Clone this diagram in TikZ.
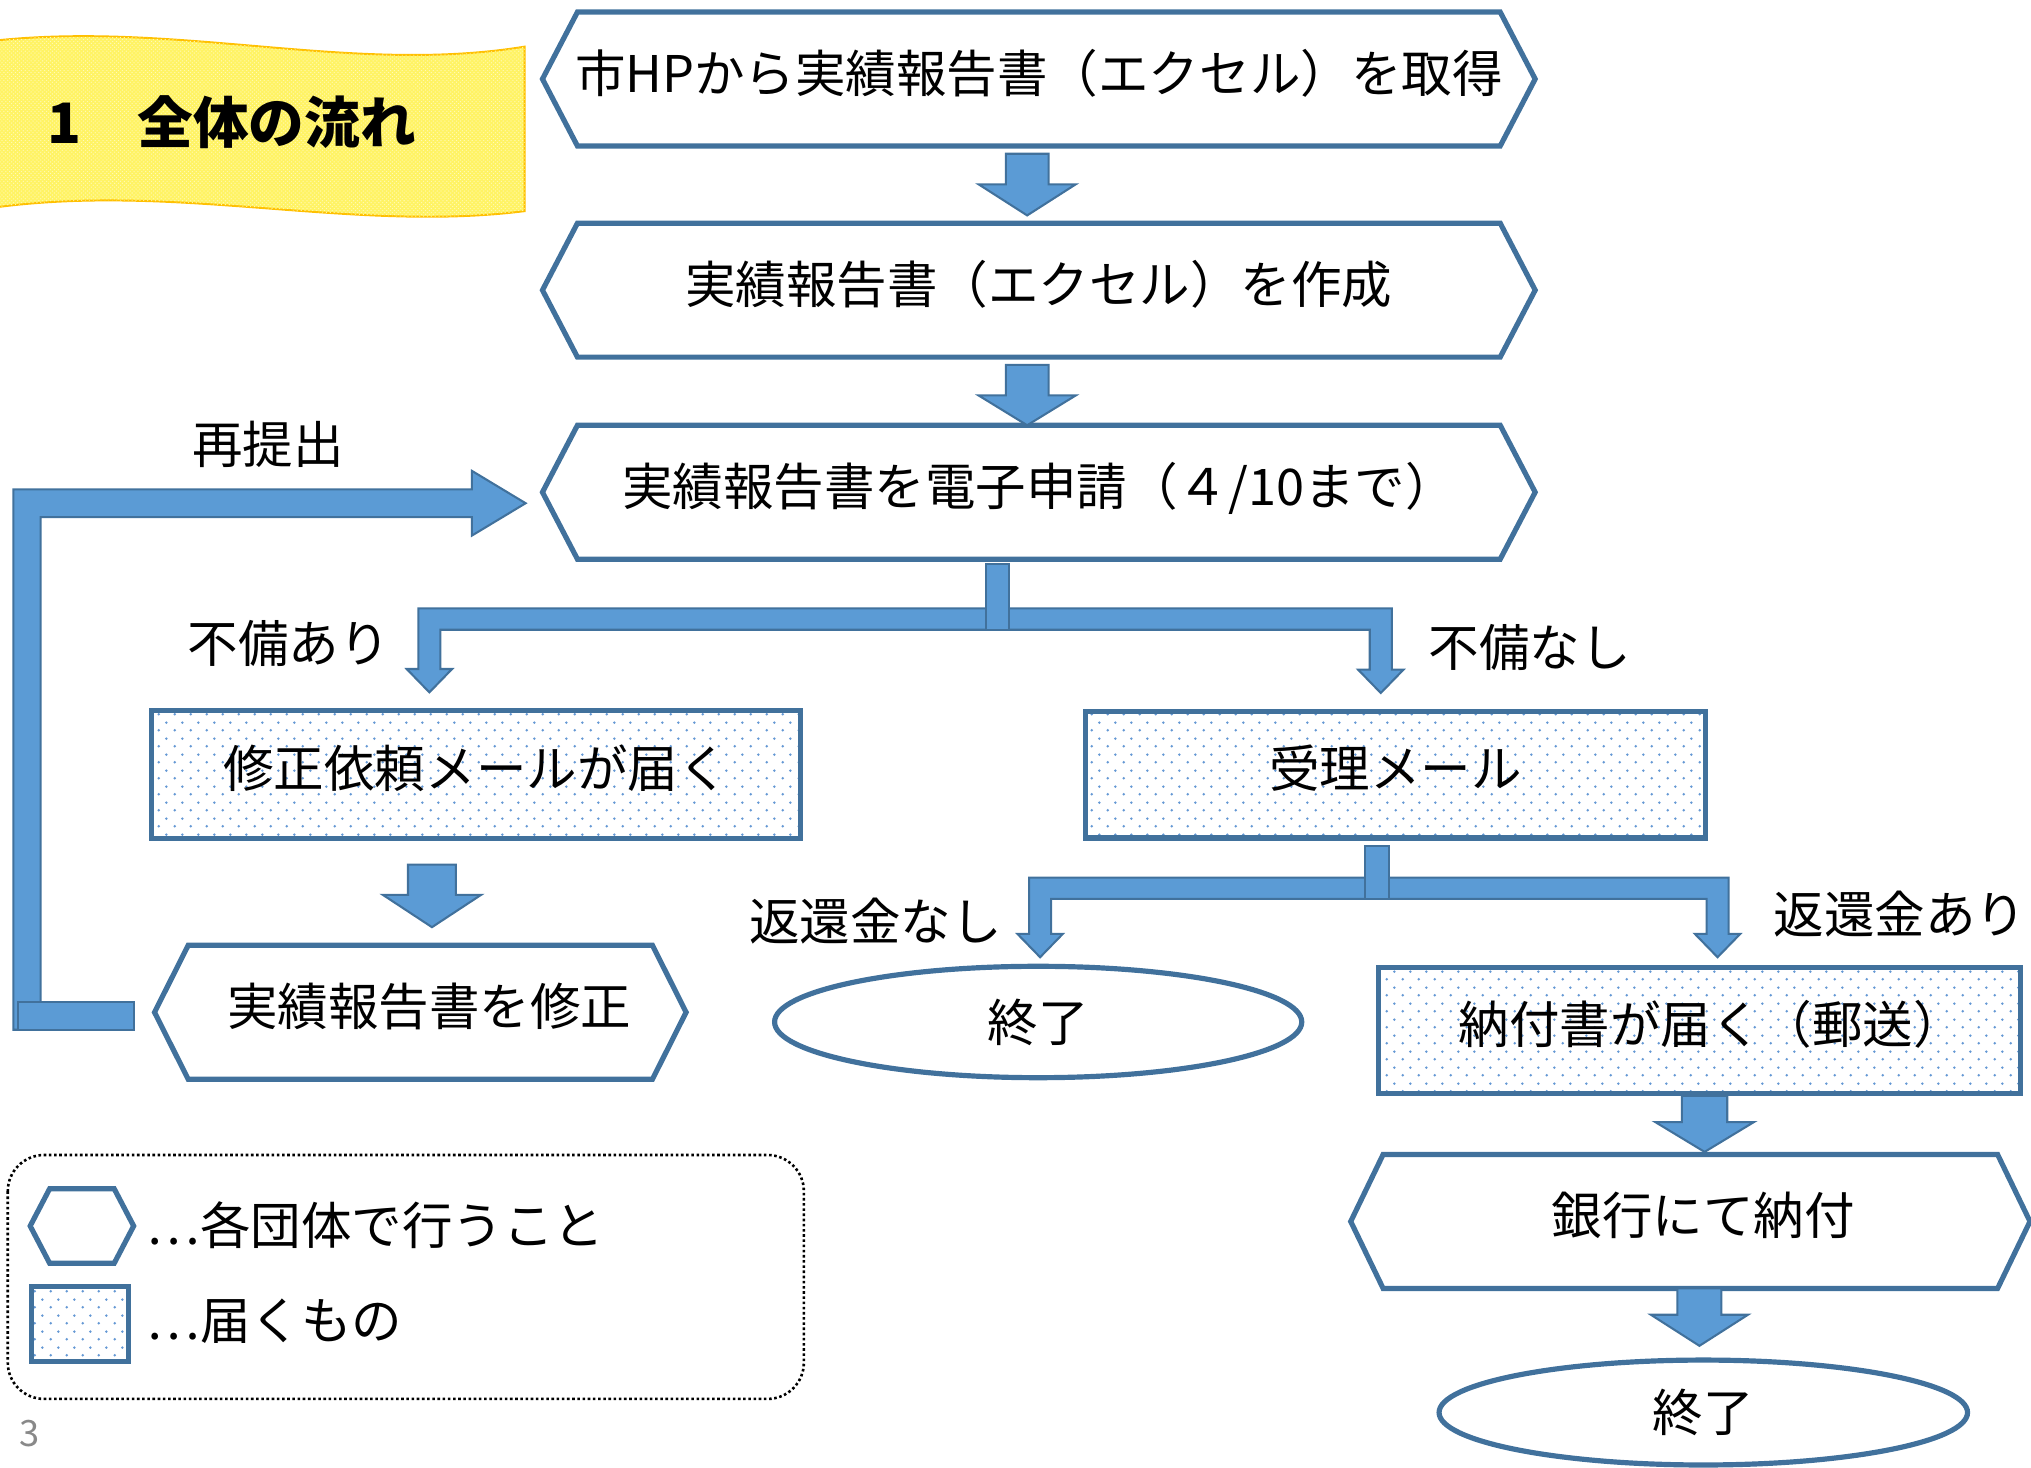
\documentclass[tikz,border=0pt]{standalone}
\usepackage{fontspec}
\setmainfont{Noto Sans CJK JP}
\usetikzlibrary{calc,shapes.geometric,patterns}
\definecolor{bordc}{RGB}{65,113,156}
\definecolor{arrfill}{RGB}{91,155,213}
\definecolor{dotc}{RGB}{100,152,212}
\definecolor{banfill}{RGB}{255,243,100}
\definecolor{banline}{RGB}{255,192,0}
\definecolor{pgnum}{RGB}{137,137,137}
\pgfdeclarepatternformonly{lbdots}{\pgfqpoint{0pt}{0pt}}{\pgfqpoint{12pt}{12pt}}{\pgfqpoint{12pt}{12pt}}{%
  \pgfpathcircle{\pgfqpoint{3pt}{3pt}}{1.1pt}%
  \pgfpathcircle{\pgfqpoint{9pt}{9pt}}{1.1pt}%
  \pgfusepath{fill}}
\newcommand\hexdraw[2]{%
  \draw[hexline] ($(#1.north west)+(#2,0)$) -- ($(#1.north east)+(-#2,0)$) -- (#1.east)
    -- ($(#1.south east)+(-#2,0)$) -- ($(#1.south west)+(#2,0)$) -- (#1.west) -- cycle;}
\newcommand\dnarrow[5]{% start, tip, half shaft, half head, head length
  \filldraw[blockarrow] let \p1=(#1), \p2=(#2) in
    (\x2-#3,\y1) -- (\x2+#3,\y1) -- (\x2+#3,\y2+#5) -- (\x2+#4,\y2+#5) -- (\x2,\y2)
    -- (\x2-#4,\y2+#5) -- (\x2-#3,\y2+#5) -- cycle;}
\newcommand\forkarrow[4]{% stub top, left tip, right tip, bar top
  \filldraw[blockarrow] let \p1=(#1), \p2=(#2), \p3=(#3), \p4=(#4) in
    (\x2-8.5pt,\y4) -- (\x3+8.5pt,\y4) -- (\x3+8.5pt,\y3+18pt) -- (\x3+17.5pt,\y3+18pt) -- (\x3,\y3)
    -- (\x3-17.5pt,\y3+18pt) -- (\x3-8.5pt,\y3+18pt) -- (\x3-8.5pt,\y4-16.5pt) -- (\x2+8.5pt,\y4-16.5pt)
    -- (\x2+8.5pt,\y2+18pt) -- (\x2+17.5pt,\y2+18pt) -- (\x2,\y2) -- (\x2-17.5pt,\y2+18pt)
    -- (\x2-8.5pt,\y2+18pt) -- cycle;
  \filldraw[blockarrow] let \p1=(#1), \p4=(#4) in (\x1-9pt,\y1) rectangle (\x1+9pt,\y4-16.5pt);}
\begin{document}
\begin{tikzpicture}[x=1pt,y=-1pt,
  txt/.style={font=\fontsize{39pt}{46pt}\selectfont, inner sep=0pt},
  hexnode/.style={txt, minimum height=103pt, text depth=13pt},
  recvnode/.style={txt, rectangle, draw=bordc, line width=4pt, preaction={fill=white},
     pattern=lbdots, pattern color=dotc, minimum height=98pt, text depth=13pt},
  endnode/.style={txt, ellipse, draw=bordc, line width=4pt, fill=white},
  hexline/.style={draw=bordc, line width=4pt, line join=miter},
  blockarrow/.style={fill=arrfill, draw=bordc, line width=1.6pt, line join=miter},
  lbl/.style={txt}]
\useasboundingbox (0,0) rectangle (1568,1133);

% title banner
\filldraw[fill=banfill, draw=banline, line width=1.5pt,
  postaction={pattern=crosshatch dots, pattern color=white!55!banfill}]
  (-10,32) .. controls (135,15) and (270,58) .. (405,36) -- (405,163)
  .. controls (270,180) and (135,140) .. (-10,161) -- cycle;
\node[txt, font=\fontsize{43pt}{48pt}\selectfont\bfseries] (title) at (179,94) {1　全体の流れ};

% main flow nodes
\node[hexnode, minimum width=766pt] (h1) at (802,61) {市HPから実績報告書（エクセル）を取得};
\node[hexnode, minimum width=766pt] (h2) at (802,224) {実績報告書（エクセル）を作成};
\node[hexnode, minimum width=766pt] (h3) at (802,380) {実績報告書を電子申請（４/10まで）};
\node[recvnode, minimum width=501pt, minimum height=99pt] (r1) at (367.5,598) {修正依頼メールが届く};
\node[recvnode, minimum width=479pt] (r2) at (1077.5,598) {受理メール};
\node[hexnode, minimum width=410pt] (h4) at (324.5,781.5) {\hspace*{14pt}実績報告書を修正};
\node[endnode, minimum width=407pt, minimum height=86pt] (e1) at (801.5,789) {終了};
\node[recvnode, minimum width=496pt, minimum height=97pt] (r3) at (1312,795.5) {\hspace*{18pt}納付書が届く（郵送）};
\node[hexnode, minimum width=524pt] (h5) at (1305,943) {\hspace*{20pt}銀行にて納付};
\node[endnode, minimum width=408pt, minimum height=81pt] (e2) at (1315,1090.5) {終了};

\hexdraw{h1}{27}
\hexdraw{h2}{27}
\hexdraw{h3}{27}
\hexdraw{h4}{26}
\hexdraw{h5}{25}

% straight block arrows
\dnarrow{$(h1.south)+(-9,6)$}{$(h2.north)+(-9,-6)$}{16.5pt}{37.5pt}{24pt}
\dnarrow{$(h2.south)+(-9,6)$}{$(h3.north)+(-9,0)$}{16.5pt}{37.5pt}{23pt}
\dnarrow{$(r1.south)+(-34,18)$}{$(h4.north)+(9,-14)$}{18.5pt}{38pt}{25pt}
\dnarrow{$(r3.south)+(3,0)$}{$(h5.north)+(11,-2)$}{17.5pt}{38pt}{23pt}
\dnarrow{$(h5.south)+(7,0)$}{$(e2.north)+(-3,-9)$}{17pt}{37.5pt}{24pt}

% fork arrows
\forkarrow{$(h3.south)+(-32,4)$}{$(r1.north)+(-36,-12)$}{$(r2.north)+(-11.5,-12)$}{$(h3.south)+(-32,38)$}
\forkarrow{$(r2.south)+(-14.5,4)$}{$(e1.north)+(1.5,-5)$}{$(r3.north)+(14,-6)$}{$(r2.south)+(-14.5,28.5)$}

% resubmission loop arrow
\coordinate (lpS) at ($(h4.west)+(-16,0)$);
\coordinate (lpT) at ($(h3.west)+(-13,8.5)$);
\filldraw[blockarrow] let \p1=(lpS), \p2=(lpT) in
  (10.3pt,\y1-13.5pt) -- (10.3pt,\y2+10.75pt) -- (\x2-41.5pt,\y2+10.75pt) -- (\x2-41.5pt,\y2+25pt)
  -- (\x2,\y2) -- (\x2-41.5pt,\y2-25pt) -- (\x2-41.5pt,\y2-10.75pt) -- (31.4pt,\y2-10.75pt)
  -- (31.4pt,\y1-13.5pt) -- cycle;
\filldraw[blockarrow] let \p1=(lpS) in (14pt,\y1+8pt) rectangle (\x1,\y1-13.5pt);

% labels
\node[lbl] (l1) at (207,343) {再提出};
\node[lbl] (l2) at (223,497) {不備あり};
\node[lbl] (l3) at (1181,500) {不備なし};
\node[lbl] (l4) at (676,711) {返還金なし};
\node[lbl] (l5) at (1467,706) {返還金あり};

% legend
\draw[black, line width=2pt, dotted, rounded corners=28pt] (6,891.7) rectangle (620.6,1080);
\node[minimum width=79.5pt, minimum height=57pt, inner sep=0pt] (lh) at (63.25,946.5) {};
\hexdraw{lh}{15}
\node[recvnode, minimum width=75pt, minimum height=58pt, text depth=0pt] (lr) at (61.6,1022) {};
\node[txt, anchor=west] (lt1) at (113,946) {…各団体で行うこと};
\node[txt, anchor=west] (lt2) at (113,1020) {…届くもの};

% page number
\node[txt, font=\fontsize{28pt}{30pt}\selectfont, text=pgnum] (pg) at (23,1107) {3};
\end{tikzpicture}
\end{document}
